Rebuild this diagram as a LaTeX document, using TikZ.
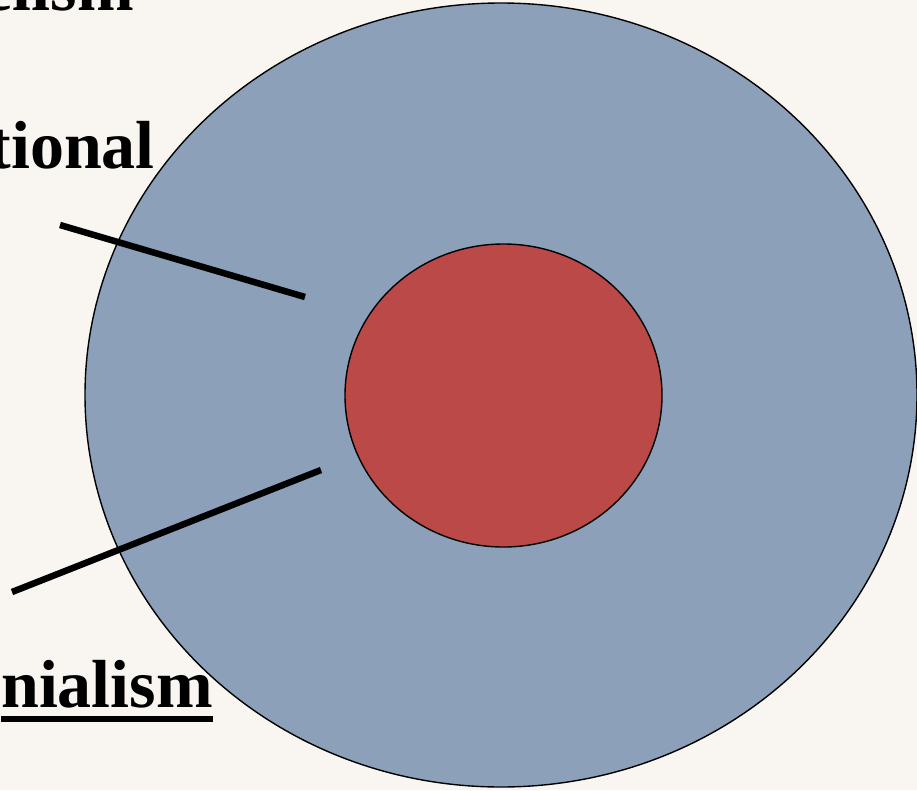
\documentclass[tikz,border=0pt]{standalone}
\usepackage{fontspec}
\setmainfont{Liberation Serif}
\usetikzlibrary{shapes.geometric}
\definecolor{paper}{RGB}{249,245,241}
\definecolor{steel}{RGB}{140,161,185}
\definecolor{brick}{RGB}{187,73,72}

\begin{document}
\begin{tikzpicture}[x=1pt,y=-1pt,every node/.style={font=\fontsize{68}{72}\selectfont\bfseries},
    ring/.style={draw,ellipse,inner sep=0pt,line width=1.4pt},
    pointer/.style={line width=6.5pt}]
        \fill[paper] (0,0) rectangle (917,790);
        \useasboundingbox (0,0) rectangle (917,790);
        \clip (0,0) rectangle (917,790);
        \node[ring,fill=steel,minimum width=832,minimum height=784] (outer) at (501,395) {};
        \node[ring,fill=brick,minimum width=317,minimum height=303] (core) at (503.5,395.5) {};
        \node[anchor=base east,inner sep=0pt] (top) at (134,10) {elism};
        \node[anchor=base east,inner sep=0pt] (mid) at (155,168) {tional};
        \node[anchor=base east,inner sep=0pt] (low) at (213,707) {nialism};
        \draw[line width=6pt] ([yshift=-12]low.base west) -- ([yshift=-12]low.base east);
        \coordinate (p1) at (60,225);
        \coordinate (q1) at (305,297);
        \coordinate (p2) at (12,592);
        \coordinate (q2) at (321,470);
        \draw[pointer] (p1) -- (q1);
        \draw[pointer] (p2) -- (q2);
    \end{tikzpicture}
\end{document}
